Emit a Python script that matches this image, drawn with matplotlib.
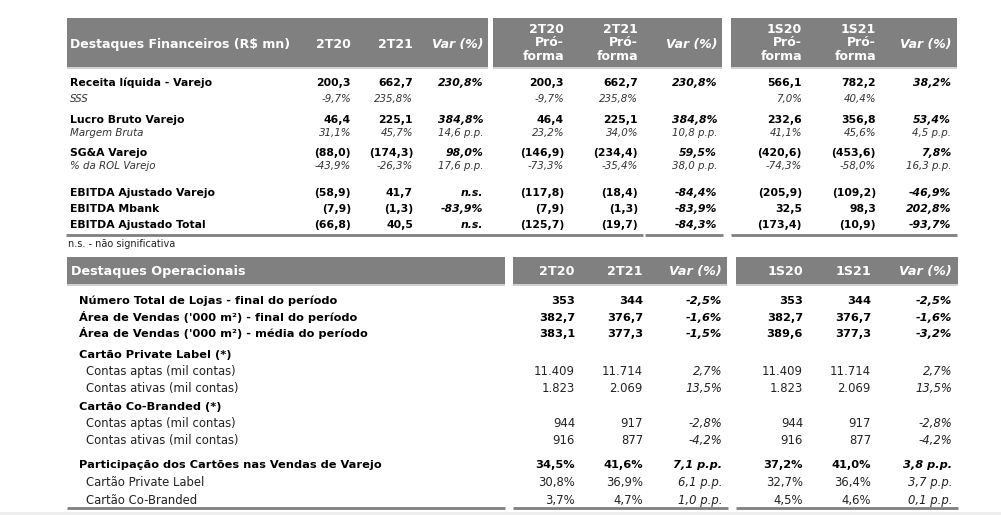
import matplotlib
matplotlib.use("Agg")
import matplotlib.pyplot as plt
from matplotlib.patches import Rectangle

# ---------------- data ----------------
fin_title = "Destaques Financeiros (R$ mn)"
fin_labels = ["Receita líquida - Varejo", "SSS", "Lucro Bruto Varejo", "Margem Bruta",
              "SG&A Varejo", "% da ROL Varejo", "EBITDA Ajustado Varejo", "EBITDA Mbank",
              "EBITDA Ajustado Total"]
fin_2t20 = ["200,3", "-9,7%", "46,4", "31,1%", "(88,0)", "-43,9%", "(58,9)", "(7,9)", "(66,8)"]
fin_2t21 = ["662,7", "235,8%", "225,1", "45,7%", "(174,3)", "-26,3%", "41,7", "(1,3)", "40,5"]
fin_var = ["230,8%", "", "384,8%", "14,6 p.p.", "98,0%", "17,6 p.p.", "n.s.", "-83,9%", "n.s."]
fin_2t20_pf = ["200,3", "-9,7%", "46,4", "23,2%", "(146,9)", "-73,3%", "(117,8)", "(7,9)", "(125,7)"]
fin_2t21_pf = ["662,7", "235,8%", "225,1", "34,0%", "(234,4)", "-35,4%", "(18,4)", "(1,3)", "(19,7)"]
fin_var_pf = ["230,8%", "", "384,8%", "10,8 p.p.", "59,5%", "38,0 p.p.", "-84,4%", "-83,9%", "-84,3%"]
fin_1s20 = ["566,1", "7,0%", "232,6", "41,1%", "(420,6)", "-74,3%", "(205,9)", "32,5", "(173,4)"]
fin_1s21 = ["782,2", "40,4%", "356,8", "45,6%", "(453,6)", "-58,0%", "(109,2)", "98,3", "(10,9)"]
fin_var_1s = ["38,2%", "", "53,4%", "4,5 p.p.", "7,8%", "16,3 p.p.", "-46,9%", "202,8%", "-93,7%"]
fin_headers = ["2T20", "2T21", "Var (%)", "2T20\nPró-\nforma", "2T21\nPró-\nforma", "Var (%)",
               "1S20\nPró-\nforma", "1S21\nPró-\nforma", "Var (%)"]
footnote = "n.s. - não significativa"

op_title = "Destaques Operacionais"
op_labels = ["Número Total de Lojas - final do período",
             "Área de Vendas ('000 m²) - final do período",
             "Área de Vendas ('000 m²) - média do período",
             "Cartão Private Label (*)", "Contas aptas (mil contas)", "Contas ativas (mil contas)",
             "Cartão Co-Branded (*)", "Contas aptas (mil contas)", "Contas ativas (mil contas)",
             "Participação dos Cartões nas Vendas de Varejo", "Cartão Private Label",
             "Cartão Co-Branded"]
op_2t20 = ["353", "382,7", "383,1", "", "11.409", "1.823", "", "944", "916", "34,5%", "30,8%", "3,7%"]
op_2t21 = ["344", "376,7", "377,3", "", "11.714", "2.069", "", "917", "877", "41,6%", "36,9%", "4,7%"]
op_var = ["-2,5%", "-1,6%", "-1,5%", "", "2,7%", "13,5%", "", "-2,8%", "-4,2%",
          "7,1 p.p.", "6,1 p.p.", "1,0 p.p."]
op_1s20 = ["353", "382,7", "389,6", "", "11.409", "1.823", "", "944", "916", "37,2%", "32,7%", "4,5%"]
op_1s21 = ["344", "376,7", "377,3", "", "11.714", "2.069", "", "917", "877", "41,0%", "36,4%", "4,6%"]
op_var_1s = ["-2,5%", "-1,6%", "-3,2%", "", "2,7%", "13,5%", "", "-2,8%", "-4,2%",
             "3,8 p.p.", "3,7 p.p.", "0,1 p.p."]
op_headers = ["2T20", "2T21", "Var (%)", "1S20", "1S21", "Var (%)"]

# ---------------- layout / style ----------------
W, H = 1001, 515
GRAY = "#808080"
FS_FB = 7.85   # financial bold rows
FS_FI = 7.4    # financial italic rows
FS_FH = 9.0    # financial header
FS_OB = 8.2    # operational bold rows
FS_OR = 8.4    # operational regular rows
FS_OH = 9.2    # operational header
fin_main = [True, False, True, False, True, False, True, True, True]
op_style = ["b", "b", "b", "b", "r", "r", "b", "r", "r", "b", "r", "r"]  # b: bold, r: regular

fin_y = [82, 99, 119, 133, 152, 166, 192, 208, 224]
fin_cols_x = [351, 413, 483, 564, 638, 717, 802, 876, 951]
op_y = [300, 317, 333, 354, 371, 388, 406, 423, 440, 464, 482, 500]
op_cols_x = [575, 643, 722, 803, 871, 952]

fig = plt.figure(figsize=(W / 100, H / 100), dpi=100)
ax = fig.add_axes([0, 0, 1, 1])
ax.set_xlim(0, W)
ax.set_ylim(H, 0)
ax.axis("off")


def base(yc, fs):
    # baseline position so that capitals are centred on yc
    return yc + 0.45 * fs


def txt(x, yc, s, fs, **kw):
    ax.text(x, base(yc, fs), s, fontsize=fs, va="baseline", **kw)


def band(x0, x1, y0, y1):
    ax.add_patch(Rectangle((x0, y0), x1 - x0, y1 - y0, facecolor=GRAY, edgecolor="none"))
    ax.plot([x0, x1], [y1 + 0.5, y1 + 0.5], color="#c8c8c8", lw=1.2, solid_capstyle="butt")


def hline(x0, x1, y):
    ax.plot([x0, x1], [y, y], color=GRAY, lw=2.0, solid_capstyle="butt")


# ---- financial table ----
for (x0, x1) in [(67, 488), (493, 722), (731, 957)]:
    band(x0, x1, 18, 67)
txt(70, 44, fin_title, FS_FH, color="white", fontweight="bold", ha="left")
for x, h in zip(fin_cols_x, fin_headers):
    italic = h.startswith("Var")
    if "\n" in h:
        ax.text(x, 43, h, color="white", fontsize=FS_FH, fontweight="bold",
                ha="right", va="center", multialignment="right", linespacing=1.05)
    else:
        txt(x, 44, h, FS_FH, color="white", fontweight="bold",
            style="italic" if italic else "normal", ha="right")

fin_cols = [fin_2t20, fin_2t21, fin_var, fin_2t20_pf, fin_2t21_pf, fin_var_pf,
            fin_1s20, fin_1s21, fin_var_1s]
for i, lab in enumerate(fin_labels):
    y = fin_y[i]
    main = fin_main[i]
    if main:
        txt(70, y, lab, FS_FB, fontweight="bold", color="black", ha="left")
    else:
        txt(70, y, lab, FS_FI, style="italic", color="#333333", ha="left")
    for j, col in enumerate(fin_cols):
        v = col[i]
        if not v:
            continue
        is_var = j in (2, 5, 8)
        if main:
            txt(fin_cols_x[j], y, v, FS_FB, fontweight="bold",
                style="italic" if is_var else "normal", color="black", ha="right")
        else:
            txt(fin_cols_x[j], y, v, FS_FI, style="italic", color="#333333", ha="right")

for (x0, x1) in [(66, 643), (645, 723), (731, 957)]:
    hline(x0, x1, 235)
txt(68, 244, footnote, 7.0, color="#222222", ha="left")

# ---- operational table ----
for (x0, x1) in [(67, 505), (513, 727), (736, 958)]:
    band(x0, x1, 257, 284)
txt(71, 271, op_title, FS_OH, color="white", fontweight="bold", ha="left")
for x, h in zip(op_cols_x, op_headers):
    txt(x, 271, h, FS_OH, color="white", fontweight="bold",
        style="italic" if h.startswith("Var") else "normal", ha="right")

op_cols = [op_2t20, op_2t21, op_var, op_1s20, op_1s21, op_var_1s]
for i, lab in enumerate(op_labels):
    y = op_y[i]
    bold = op_style[i] == "b"
    fs = FS_OB if bold else FS_OR
    txt(79 if bold else 86, y, lab, fs, fontweight="bold" if bold else "normal",
        color="black" if bold else "#222222", ha="left")
    for j, col in enumerate(op_cols):
        v = col[i]
        if not v:
            continue
        is_var = j in (2, 5)
        txt(op_cols_x[j], y, v, fs, fontweight="bold" if bold else "normal",
            style="italic" if is_var else "normal",
            color="black" if bold else "#222222", ha="right")

for (x0, x1) in [(67, 505), (513, 728), (736, 958)]:
    hline(x0, x1, 508)
ax.add_patch(Rectangle((0, 512), W, 3, facecolor="#eeeeee", edgecolor="none"))

fig.savefig("out.png", dpi=100)
